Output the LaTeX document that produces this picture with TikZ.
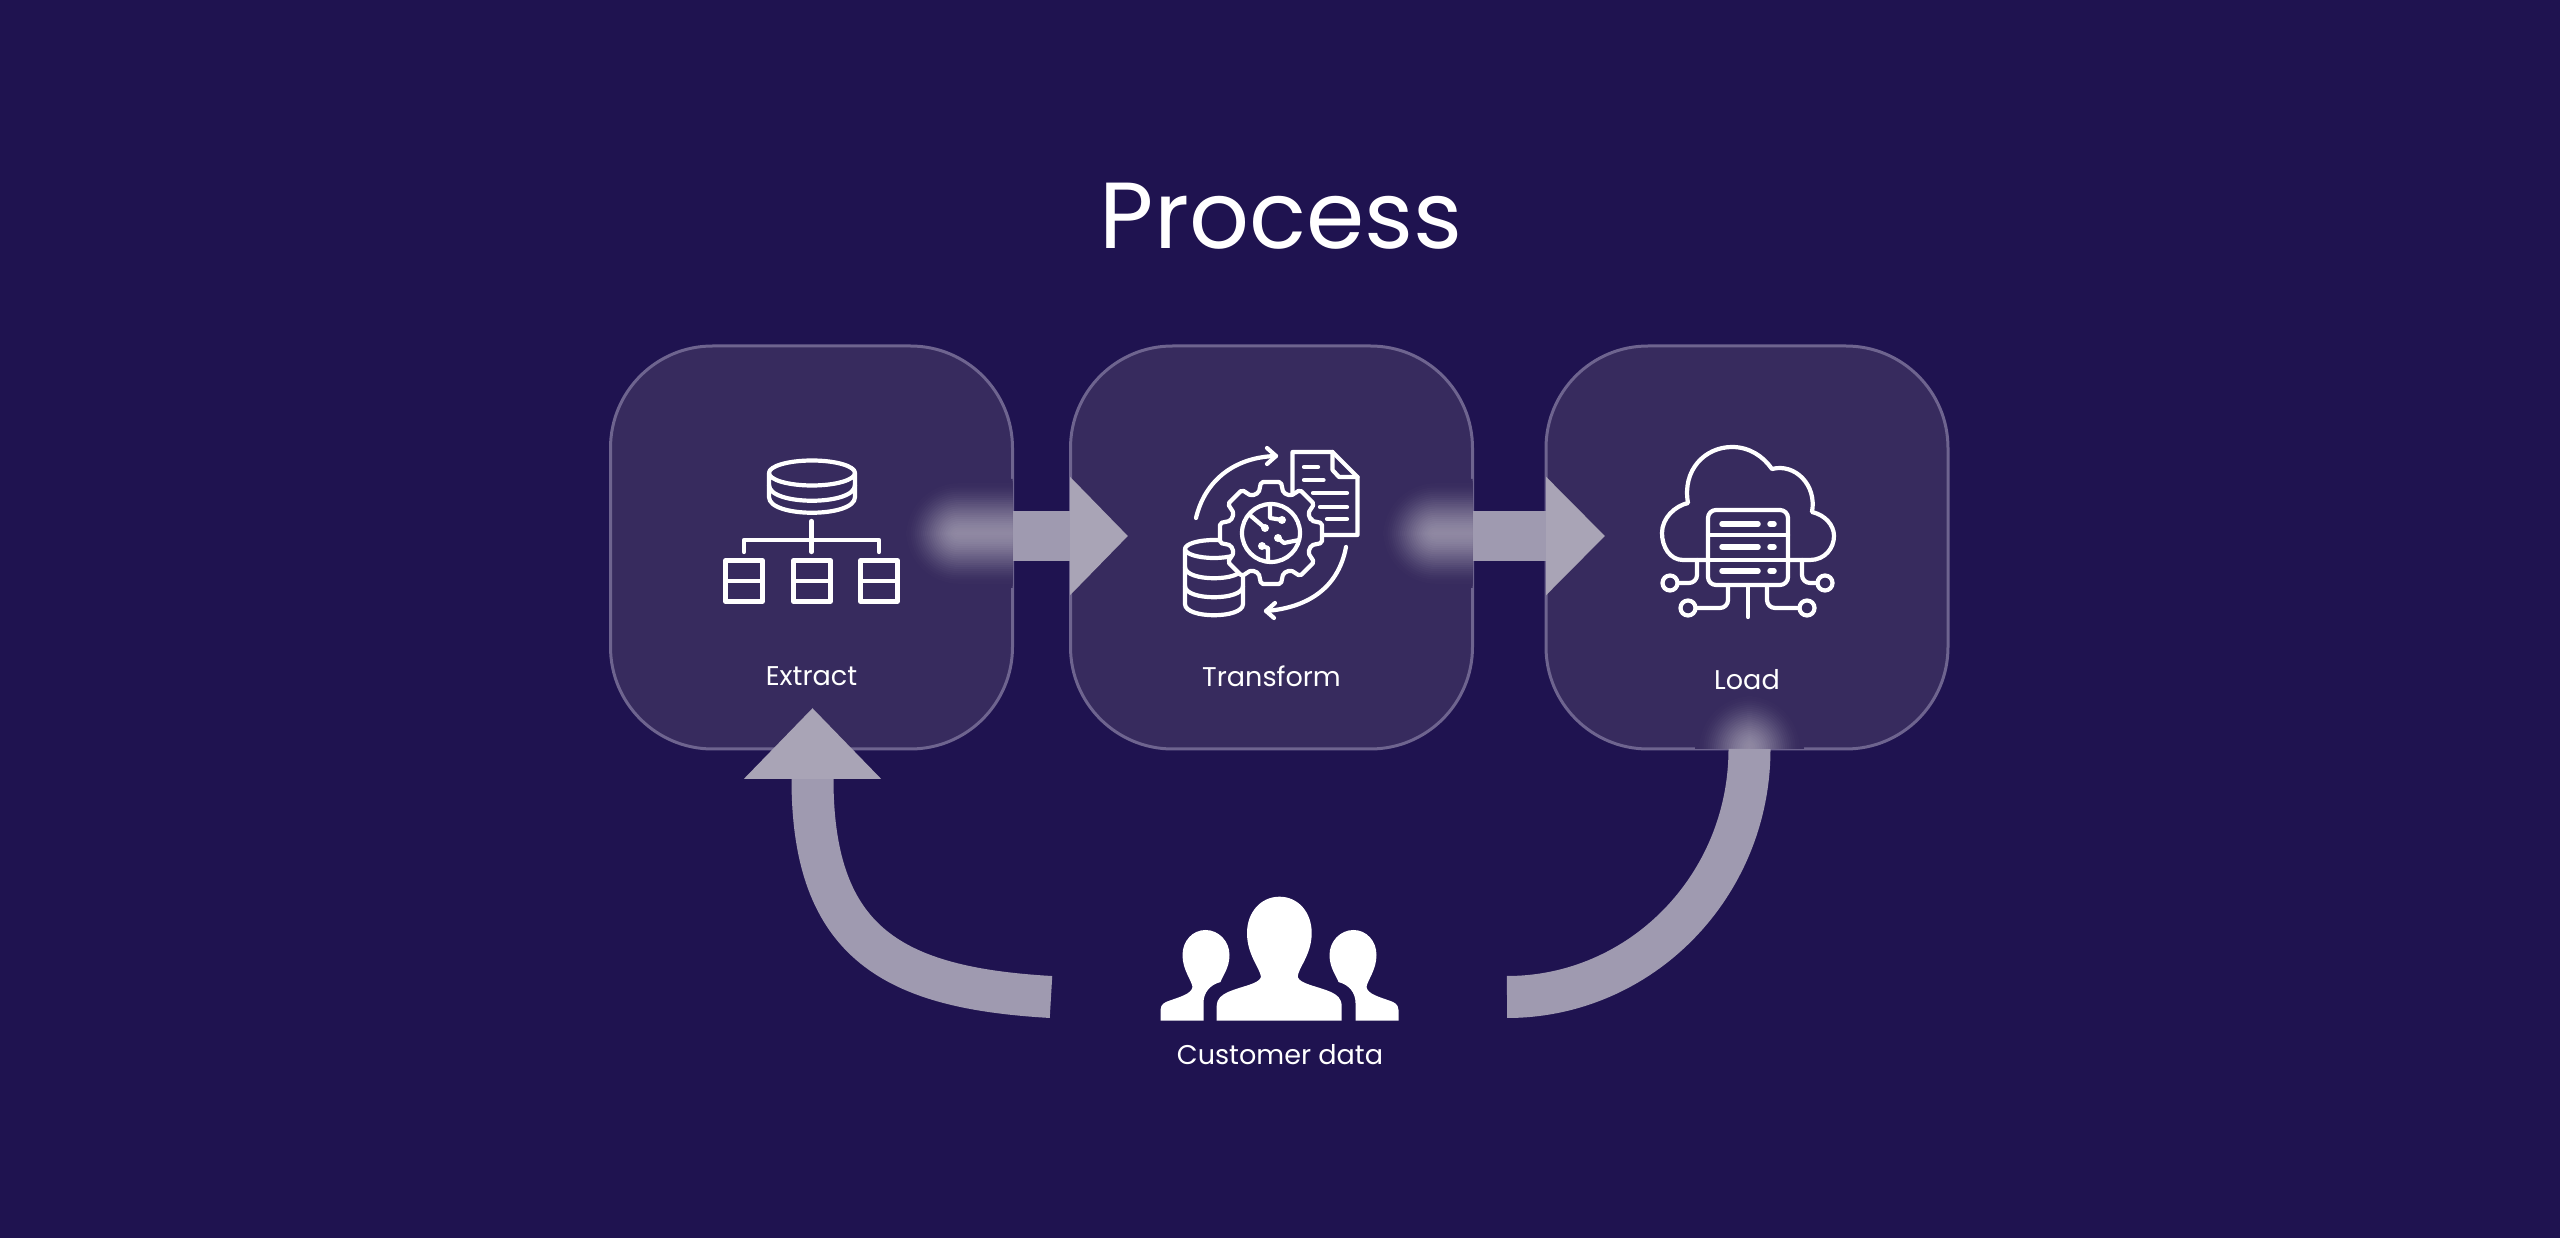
\documentclass[tikz,border=0pt]{standalone}
\usepackage{fontspec}
\setmainfont{Poppins}
\usetikzlibrary{arrows.meta}
\definecolor{pagefill}{HTML}{1F1350}
\definecolor{cardfill}{HTML}{372B5E}
\definecolor{cardline}{HTML}{6E648F}
\definecolor{flowcol}{HTML}{9F9AB0}
\definecolor{headcol}{HTML}{A9A4B6}
\definecolor{glowcol}{HTML}{8F88A2}
\begin{document}
\begin{tikzpicture}[x=0.1mm, y=-0.1mm]
      \tikzset{
	  stagecard/.style={rectangle, rounded corners=10.2mm, draw=cardline, fill=cardfill, line width=0.3mm, minimum width=40.2mm, minimum height=40.3mm, inner sep=0pt, outer sep=0pt},
	  stagelabel/.style={text=white, anchor=base, font=\fontsize{7.7pt}{9pt}\selectfont},
	  icon/.style={draw=white, line width=0.42mm, line cap=round, line join=round},
	  iconfill/.style={fill=white},
	  bigflow/.style={draw=flowcol, line width=4.2mm},
	  bighead/.style={-{Triangle[length=#1, width=11.5mm, color=headcol, fill=headcol]}},
	  uphead/.style={-{Triangle[length=7.1mm, width=13.3mm, color=headcol, fill=headcol]}}
      }

      \def\sideperson{(-119,1020.7) -- (-119,1010) .. controls (-119,1004) and (-114,1002) .. (-111,1001) .. controls (-100,997) and (-88,994) .. (-87,987) .. controls (-88,980) and (-97,970) .. (-97,955) .. controls (-97,941) and (-87,930) .. (-74,930) .. controls (-61,930) and (-50,941) .. (-50,955) .. controls (-50,968) and (-57,976) .. (-59,982) .. controls (-70,985) and (-76,993) .. (-76,1003) -- (-76,1020.7) -- cycle}

      % soft patch where a flow enters a card
      \def\glowspot#1#2#3#4#5{
        \begin{scope}
          \clip[rounded corners=10.2mm] (#1.south west) rectangle (#1.north east);
          \foreach \k in {0,...,26}{
            \pgfmathsetmacro\grow{30-2.1*\k}
            \pgfmathsetmacro\mixp{100*(3*(\k/26)^2-2*(\k/26)^3)}
            \pgfmathsetmacro\bend{0.1*(\grow+27)}
            \fill[glowcol!\mixp!cardfill, rounded corners=\bend mm] (#2-\grow,#3-\grow) rectangle (#4+\grow,#5+\grow);
          }
        \end{scope}
      }

      % page and stages
      \fill[pagefill] (0,0) rectangle (2560,1238);
      \node (title) [text=white, anchor=base, font=\fontsize{26.7pt}{32pt}\selectfont] at (1281,249) {Process};

      \node (extract) [stagecard] at (811.5,547.5) {};
      \node (transform) [stagecard] at (1271.5,547.5) {};
      \node (load) [stagecard] at (1747,547.5) {};

      \glowspot{extract}{932}{509}{1050}{558}
      \glowspot{transform}{1409}{509}{1510}{558}
      \glowspot{load}{1725}{722}{1774}{800}

      \node (extractlabel) [stagelabel] at (811.5,686) {Extract};
      \node (transformlabel) [stagelabel] at (1271.5,687) {Transform};
      \node (loadlabel) [stagelabel] at (1747,690) {Load};
      \node (customerlabel) [stagelabel] at (1280,1065) {Customer data};

      % connectors
      \coordinate (tipone) at (1128,536);
      \coordinate (tiptwo) at (1605,536);
      \coordinate (tipthree) at (812.5,708);
      \coordinate (flowleft) at (1051,997);
      \coordinate (flowright) at (1507,997);
      \coordinate (flowload) at (1749.5,749);

      \draw[bigflow, line width=5mm, bighead=5.8mm] (extract.east |- tipone) -- (tipone);
      \draw[bigflow, line width=5mm, bighead=5.9mm] (transform.east |- tiptwo) -- (tiptwo);
      \draw[bigflow, uphead] (flowleft) .. controls (895,988) and (812.5,945) .. (812.5,779) -- (tipthree);
      \draw[bigflow] (flowright) .. controls (1641,997) and (1749.5,886) .. (flowload);

      % extract icon
      \draw[icon] (812,473) ellipse (43 and 12.5);
      \draw[icon] (769,473) -- (769,497) .. controls (769,518) and (855,518) .. (855,497) -- (855,473);
      \draw[icon] (769,485) .. controls (769,506) and (855,506) .. (855,485);
      \draw[icon] (811.5,521) -- (811.5,552);
      \draw[icon] (744,552) -- (744,540) -- (879,540) -- (879,552);
      \foreach \bx in {725.5,793.5,860.5}{
        \draw[icon] (\bx,560.5) rectangle ++(37,41);
        \draw[icon] (\bx,581) -- ++(37,0);
      }

      % transform icon
      \draw[icon] (1292.5,500) -- (1292.5,452) -- (1332.5,452) -- (1357.5,477) -- (1357.5,535) -- (1310,535);
      \draw[icon] (1332.5,452) -- (1332.5,470) -- (1339,477) -- (1357.5,477);
      \draw[icon] (1304,467) -- (1318,467);
      \draw[icon] (1304,480) -- (1323.5,480);
      \draw[icon] (1313,493) -- (1347,493);
      \draw[icon] (1320,507) -- (1347,507);
      \draw[icon] (1327,519) -- (1347,519);
      \draw[icon] (1214,549) ellipse (29 and 9);
      \draw[icon] (1185,549) -- (1185,604) .. controls (1185,619) and (1243,619) .. (1243,604) -- (1243,549);
      \draw[icon] (1185,567) .. controls (1185,582) and (1243,582) .. (1243,567);
      \draw[icon] (1185,586) .. controls (1185,601) and (1243,601) .. (1243,586);
      \begin{scope}[shift={(1271,533)}]
        \draw[icon, fill=cardfill, rounded corners=0.2mm] (-17:42) \foreach \a in {0,45,...,315}{ -- (\a-17:42) -- (\a-11:52) -- (\a+11:52) -- (\a+17:42) } -- cycle;
        \draw[icon] (0,0) circle (29);
        \draw[icon] (-1,-28) -- (-1,-15) -- (11,-13);
        \draw[icon] (-20,-17) -- (-6,-5);
        \draw[icon] (28,7) -- (13,10) -- (7,5);
        \draw[icon] (-3,28) -- (-3,15) -- (-9,13);
        \foreach \dx/\dy in {11/-13,-6/-5,7/5,-9/13}{
          \fill[iconfill] (\dx,\dy) circle (4);
        }
      \end{scope}
      \draw[icon] (1196,518) .. controls (1205,480) and (1235,457) .. (1276,456);
      \draw[icon] (1267,448) -- (1276,456) -- (1267,464);
      \draw[icon] (1346,547) .. controls (1338,590) and (1305,608) .. (1266,611);
      \draw[icon] (1275,603) -- (1266,611) -- (1274,618);

      % load icon
      \draw[icon] (1708,560) -- (1683,560) .. controls (1670,560) and (1662,547) .. (1662,533) .. controls (1662,518) and (1675,506) .. (1688,503) .. controls (1682,470) and (1705,447) .. (1732,447) .. controls (1749,447) and (1763,456) .. (1772,469) .. controls (1795,463) and (1817,485) .. (1812,512) .. controls (1825,515) and (1834,525) .. (1834,536) .. controls (1834,548) and (1825,560) .. (1810,560) -- (1788,560);
      \draw[icon, rounded corners=0.8mm] (1708,510) rectangle (1788,585);
      \draw[icon] (1708,535) -- (1788,535);
      \draw[icon] (1708,560) -- (1788,560);
      \foreach \by in {524,547,571}{
        \draw[icon, line width=0.55mm] (1722,\by) -- (1758,\by);
        \draw[icon, line width=0.55mm] (1770,\by) -- (1774,\by);
      }
      \draw[icon, rounded corners=0.8mm] (1697,560) -- (1697,583) -- (1678,583);
      \draw[icon, rounded corners=0.8mm] (1802,560) -- (1802,583) -- (1817,583);
      \draw[icon, rounded corners=0.8mm] (1728,585) -- (1728,608) -- (1696,608);
      \draw[icon, rounded corners=0.8mm] (1767,585) -- (1767,608) -- (1799,608);
      \draw[icon] (1748,585) -- (1748,617);
      \draw[icon] (1670,583) circle (7.5);
      \draw[icon] (1825,583) circle (7.5);
      \draw[icon] (1688,608) circle (7.5);
      \draw[icon] (1807,608) circle (7.5);

      % customer icon
      \fill[iconfill] (1216.7,1020.7) -- (1216.7,1006) .. controls (1217,998) and (1222,995) .. (1228,992) .. controls (1242,986) and (1259,984) .. (1261,977) .. controls (1260,968) and (1247,955) .. (1247,933) .. controls (1247,912) and (1261,896.7) .. (1279.5,896.7) .. controls (1298,896.7) and (1311.7,912) .. (1311.7,933) .. controls (1311.7,955) and (1298,968) .. (1297.7,977) .. controls (1300,984) and (1317,986) .. (1331,992) .. controls (1337,995) and (1341.5,998) .. (1341.7,1006) -- (1341.7,1020.7) -- cycle;
      \begin{scope}[shift={(1279.5,0)}]
        \fill[iconfill] \sideperson;
        \begin{scope}[xscale=-1]
          \fill[iconfill] \sideperson;
        \end{scope}
      \end{scope}
    \end{tikzpicture}
\end{document}
